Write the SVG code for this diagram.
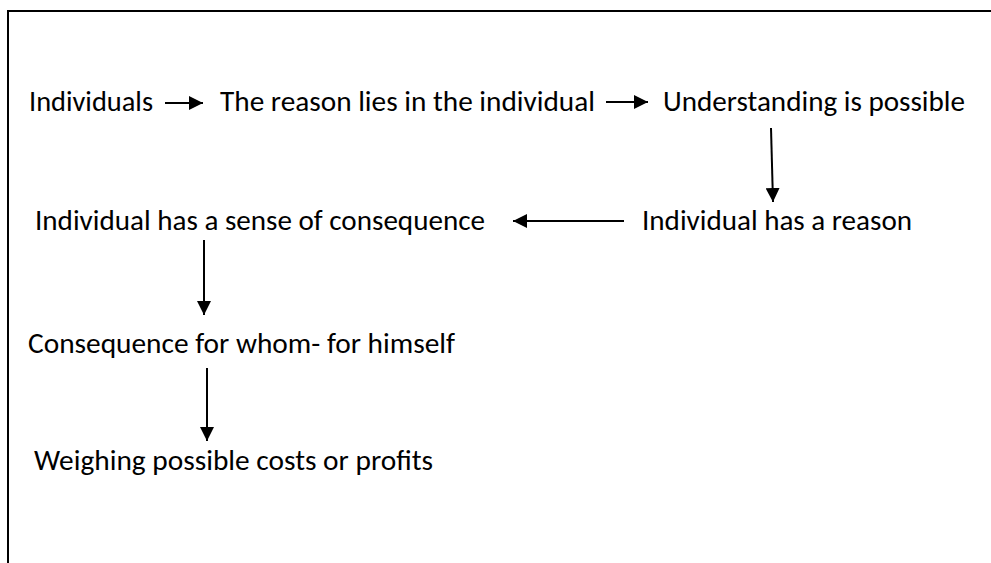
<svg xmlns="http://www.w3.org/2000/svg" width="991" height="563" viewBox="0 0 991 563">
  <style>
    .t { font-family: "Carlito", "Open Sans", "Liberation Sans", sans-serif; font-size: 28px; fill: #000; }
    .c { stroke: #000; stroke-width: 2; fill: none; }
    .frame { stroke: #000; stroke-width: 2; fill: none; }
  </style>
  <defs>
    <marker id="ah" markerUnits="userSpaceOnUse" markerWidth="16" markerHeight="14" refX="14" refY="7" orient="auto">
      <path d="M0,0 L14,7 L0,14 Z" fill="#000"/>
    </marker>
  </defs>
  <rect width="991" height="563" fill="#fff"/>
  <path class="frame" d="M8,563 L8,11 L991,11"/>

  <g id="n1"><text class="t" x="29" y="111" textLength="124" lengthAdjust="spacingAndGlyphs">Individuals</text></g>
  <g id="n2"><text class="t" x="220" y="111" textLength="375" lengthAdjust="spacingAndGlyphs">The reason lies in the individual</text></g>
  <g id="n3"><text class="t" x="663" y="111" textLength="302" lengthAdjust="spacingAndGlyphs">Understanding is possible</text></g>
  <g id="n4"><text class="t" x="642" y="230" textLength="270" lengthAdjust="spacingAndGlyphs">Individual has a reason</text></g>
  <g id="n5"><text class="t" x="35" y="230" textLength="450" lengthAdjust="spacingAndGlyphs">Individual has a sense of consequence</text></g>
  <g id="n6"><text class="t" x="28" y="353" textLength="427" lengthAdjust="spacingAndGlyphs">Consequence for whom- for himself</text></g>
  <g id="n7"><text class="t" x="34" y="470" textLength="399" lengthAdjust="spacingAndGlyphs">Weighing possible costs or profits</text></g>

  <g id="connectors">
    <line class="c" x1="165" y1="103" x2="203" y2="103" marker-end="url(#ah)"/>
    <line class="c" x1="606" y1="102" x2="648" y2="102" marker-end="url(#ah)"/>
    <line class="c" x1="771" y1="128" x2="773" y2="202" marker-end="url(#ah)"/>
    <line class="c" x1="624" y1="221" x2="513" y2="221" marker-end="url(#ah)"/>
    <line class="c" x1="204" y1="240" x2="204" y2="315" marker-end="url(#ah)"/>
    <line class="c" x1="207" y1="368" x2="207" y2="441" marker-end="url(#ah)"/>
  </g>
</svg>
